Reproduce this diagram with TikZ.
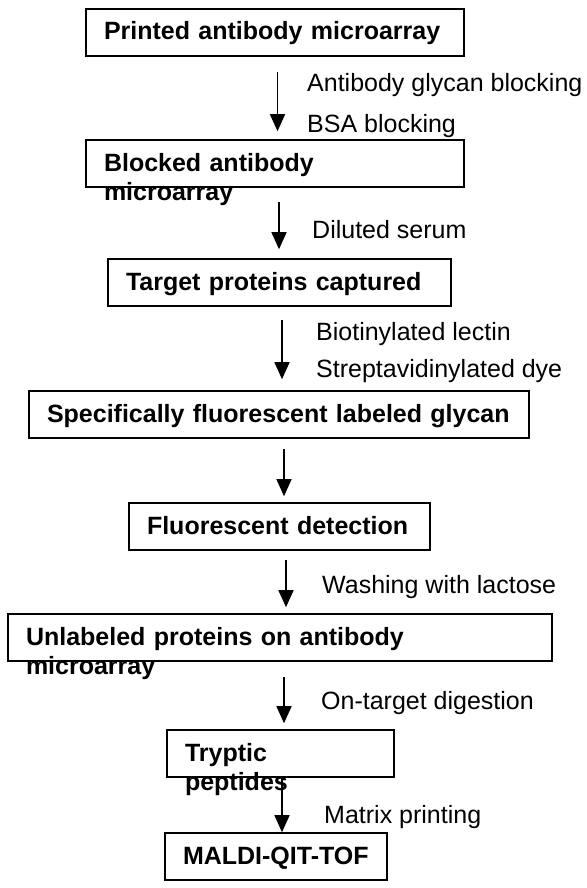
\documentclass[tikz,border=0pt]{standalone}
\usepackage{fontspec}
\setmainfont{Liberation Sans}
\usetikzlibrary{arrows.meta}

\tikzset{
  stage/.style={draw, line width=1.6pt, align=left, inner xsep=18pt, inner ysep=0pt,
    text height=31pt, text depth=16pt, font=\bfseries\fontsize{25}{29}\selectfont},
  flow/.style={line width=1.5pt, -{Triangle[width=15pt,length=17pt]}},
  step label/.style={anchor=base west, inner sep=0pt, font=\fontsize{25}{29}\selectfont}
}

\begin{document}
\begin{tikzpicture}[x=1pt,y=-1pt]
   \useasboundingbox (0,0) rectangle (586,888);

   % Boxes of the workflow
   \node[stage, text width=342pt] (printed) at (275,32.5) {Printed antibody microarray};
   \node[stage, text width=342pt] (blocked) at (275,163.5) {Blocked antibody\\microarray};
   \node[stage, text width=307pt] (captured) at (279.5,282.5) {Target proteins captured};
   \node[stage, text width=464pt] (labeled) at (279,414.5) {Specifically fluorescent labeled glycan};
   \node[stage, text width=265pt] (detection) at (279.5,526.5) {Fluorescent detection};
   \node[stage, text width=508pt] (unlabeled) at (280,637.5) {Unlabeled proteins on antibody\\microarray};
   \node[stage, text width=191pt] (tryptic) at (280.5,753.5) {Tryptic\\peptides};
   \node[stage, text width=186pt] (maldi) at (276,856.5) {MALDI-QIT-TOF};

   % Arrows between the steps
   \draw[flow] ([xshift=2.5pt,yshift=-15pt]printed.south) -- ([xshift=2.5pt,yshift=8pt]blocked.north);
   \draw[flow] ([xshift=4pt,yshift=-14pt]blocked.south) -- ([xshift=-0.5pt,yshift=9pt]captured.north);
   \draw[flow] ([xshift=2.5pt,yshift=-13pt]captured.south) -- ([xshift=3pt,yshift=11pt]labeled.north);
   \draw[flow] ([xshift=5pt,yshift=-10pt]labeled.south) -- ([xshift=4.5pt,yshift=6pt]detection.north);
   \draw[flow] ([xshift=6.5pt,yshift=-9pt]detection.south) -- ([xshift=6pt,yshift=6pt]unlabeled.north);
   \draw[flow] ([xshift=4pt,yshift=-15pt]unlabeled.south) -- ([xshift=3.5pt,yshift=6pt]tryptic.north);
   \draw[flow] ([xshift=1.5pt]tryptic.south) -- ([xshift=6pt]maldi.north);

   % Treatments beside the arrows
   \node[step label] (glycanblock) at (307,91.5) {Antibody glycan blocking};
   \node[step label] (bsablock) at (307,132.5) {BSA blocking};
   \node[step label] (serum) at (312,238) {Diluted serum};
   \node[step label] (lectin) at (316,340) {Biotinylated lectin};
   \node[step label] (dye) at (316,377) {Streptavidinylated dye};
   \node[step label] (lactose) at (322,593) {Washing with lactose};
   \node[step label] (digestion) at (321,709) {On-target digestion};
   \node[step label] (matrix) at (324,823) {Matrix printing};
\end{tikzpicture}
\end{document}
